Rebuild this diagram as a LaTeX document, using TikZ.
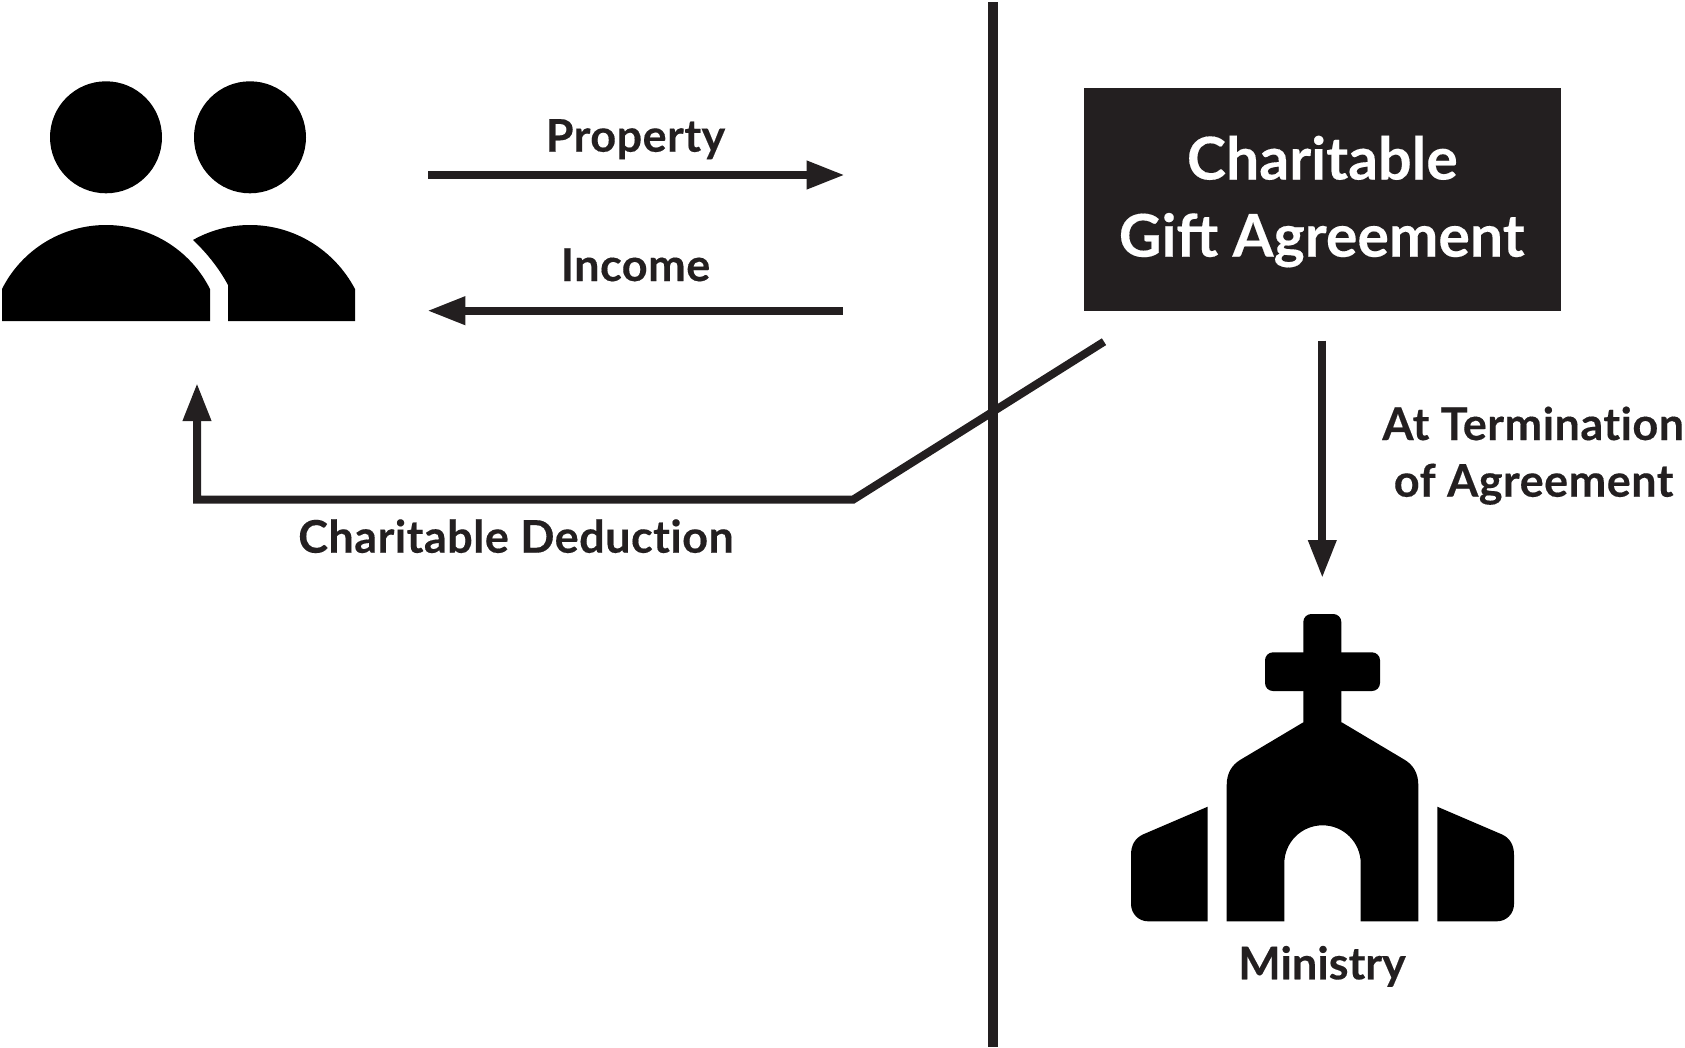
\documentclass[tikz,border=0pt]{standalone}
\usepackage{fontspec}
\setmainfont{Lato}
\newfontfamily\lblfont{Lato}[BoldFeatures={FakeBold=0.3,LetterSpace=1},Ligatures=NoCommon]
\newfontfamily\minfont{Lato}[BoldFeatures={FakeBold=0.3},Ligatures=NoCommon]
\newfontfamily\boxfont{Lato}[BoldFeatures={FakeBold=0.25}]
\usetikzlibrary{arrows.meta}
\definecolor{ink}{HTML}{231F20}
\tikzset{
  flow/.style={draw=ink,line width=8pt,shorten >=-2pt,-{Triangle[length=38pt,width=26.6pt]}},
  divider/.style={draw=ink,line width=10.5pt},
  lbl/.style={anchor=base,inner sep=0pt,text=ink,font=\lblfont\fontsize{45}{54}\selectfont\bfseries},
  minlbl/.style={anchor=base,inner sep=0pt,text=ink,font=\minfont\fontsize{45}{54}\selectfont\bfseries},
  boxlbl/.style={anchor=base,inner sep=0pt,text=white,font=\boxfont\fontsize{59}{70}\selectfont\bfseries},
  icon/.style={fill=black,draw=none}
}
\begin{document}
\begin{tikzpicture}[x=1pt,y=-1pt]
\useasboundingbox (0,0) rectangle (1685,1047);
% divider
\coordinate (divT) at (993,2);
\coordinate (divB) at (993,1047);
\draw[divider] (divT) -- (divB);
% people
\fill[icon] (106,137.3) circle[radius=56pt];
\fill[icon] (250,137.3) circle[radius=56pt];
\fill[icon] (2,321) -- (2,289) .. controls (21.8,249.7) and (62,225) .. (106,225)
  .. controls (150,225) and (190.2,249.7) .. (210,289) -- (210,321) -- cycle;
\fill[icon] (193,240) .. controls (210.4,230.2) and (230.1,225) .. (250,225)
  .. controls (294,225) and (334.2,249.7) .. (355,289) -- (355,321) -- (228,321) -- (228,285)
  .. controls (220,270) and (208,254) .. (193,240) -- cycle;
% top arrows
\coordinate (propA) at (428.3,175);
\coordinate (propB) at (842.7,175);
\coordinate (incA) at (842.7,310.7);
\coordinate (incB) at (429.3,310.7);
\draw[flow] (propA) -- (propB);
\draw[flow] (incA) -- (incB);
\node[lbl] (property) at (635.5,151.7) {Property};
\node[lbl] (income) at (635.5,281) {Income};
% agreement box
\node[fill=ink,minimum width=477pt,minimum height=223pt,inner sep=0pt] (gift) at (1322.5,199.5) {};
\node[boxlbl] (giftA) at (1322.3,179.5) {Charitable};
\node[boxlbl] (giftB) at (1321.7,256.7) {Gift Agreement};
% deduction
\coordinate (dedA) at (1104,341.7);
\coordinate (dedM) at (853,499.7);
\coordinate (dedL) at (197,499.7);
\coordinate (dedT) at (197,385);
\draw[flow,miter limit=10] (dedA) -- (dedM) -- (dedL) -- (dedT);
\node[lbl] (deduction) at (516,552.7) {Charitable Deduction};
% termination
\coordinate (termA) at (1322.3,340.7);
\coordinate (termB) at (1322.3,576);
\draw[flow] (termA) -- (termB);
\node[lbl] (term1) at (1533.2,440) {At Termination};
\node[lbl] (term2) at (1533.6,496.7) {of Agreement};
% church
\fill[icon,rounded corners=8pt] (1303.3,614) rectangle (1341.3,740);
\fill[icon,rounded corners=8pt] (1265,652.3) rectangle (1380,691);
\fill[icon] (1226.7,921.3) -- (1226.7,785) .. controls (1226.7,773) and (1232,765) .. (1240,760)
  -- (1303.3,722.3) -- (1341.7,722.3) -- (1405,760) .. controls (1413,765) and (1418.3,773) .. (1418.3,785)
  -- (1418.3,921.3) -- (1360.7,921.3) -- (1360.7,863.5)
  .. controls (1360.7,842.4) and (1343.6,825.3) .. (1322.5,825.3)
  .. controls (1301.4,825.3) and (1284.3,842.4) .. (1284.3,863.5)
  -- (1284.3,921.3) -- cycle;
\fill[icon] (1207.7,806.7) -- (1207.7,921.3) -- (1148,921.3)
  .. controls (1138.6,921.3) and (1131,913.7) .. (1131,904) -- (1131,855)
  .. controls (1131,845) and (1135,838) .. (1143.3,834.3) -- cycle;
\fill[icon] (1437.3,806.7) -- (1437.3,921.3) -- (1497,921.3)
  .. controls (1506.4,921.3) and (1514,913.7) .. (1514,904) -- (1514,855)
  .. controls (1514,845) and (1510,838) .. (1501.7,834.3) -- cycle;
\node[minlbl] (ministry) at (1322,979.3) {Ministry};
\end{tikzpicture}
\end{document}
